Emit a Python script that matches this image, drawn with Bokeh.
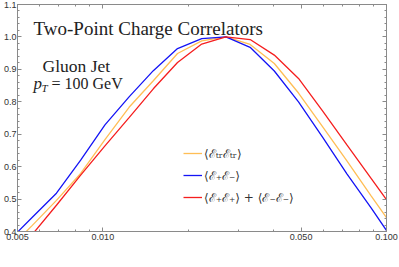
from bokeh.plotting import figure
from bokeh.models import (Range1d, LogAxis, LinearAxis, LogScale, FixedTicker, SingleIntervalTicker,
                          CustomJSTickFormatter, Label, Legend, LegendItem)
from bokeh.embed import file_html
from bokeh.resources import INLINE

# ---- data ----
theta = [0.00463, 0.00564, 0.00686, 0.00835, 0.01017, 0.01237, 0.01506, 0.01833,
         0.02231, 0.02715, 0.03305, 0.04022, 0.04895, 0.05958, 0.07251, 0.08825, 0.1074]
c_trtr = [0.343, 0.419, 0.496, 0.579, 0.683, 0.783, 0.865, 0.949,
          0.988, 1.000, 0.977, 0.918, 0.827, 0.723, 0.618, 0.510, 0.404]
c_pm = [0.369, 0.444, 0.518, 0.620, 0.729, 0.815, 0.896, 0.964,
        0.995, 1.000, 0.968, 0.895, 0.800, 0.690, 0.578, 0.473, 0.363]
c_same = [0.302, 0.391, 0.481, 0.574, 0.664, 0.751, 0.840, 0.921,
          0.978, 1.000, 0.992, 0.944, 0.872, 0.771, 0.667, 0.564, 0.461]

series_labels = ["⟨ℰₜᵣℰₜᵣ⟩", "⟨ℰ₊ℰ₋⟩", "⟨ℰ₊ℰ₊⟩ + ⟨ℰ₋ℰ₋⟩"]
series_colors = ["#FFBE55", "#1414F5", "#F51E1E"]

x_major = [0.005, 0.01, 0.05, 0.1]
x_minor = [0.006, 0.007, 0.008, 0.009, 0.02, 0.03, 0.04, 0.06, 0.07, 0.08, 0.09]
x_gray_labels = [0.02, 0.03, 0.04]

AX = "#8a8a8a"
LBL = "#333333"

p = figure(width=399, height=267, output_backend="svg", toolbar_location=None,
           x_axis_type=None, y_axis_type=None,
           x_range=Range1d(0.005, 0.1), y_range=Range1d(0.4, 1.1),
           min_border_left=17, min_border_right=13, min_border_top=4, min_border_bottom=36,
           margin=(0, 0, 0, 0))
p.x_scale = LogScale()
p.grid.visible = False
p.outline_line_color = AX
p.background_fill_color = "white"
p.border_fill_color = "white"

def style(ax, labels=True):
    ax.axis_line_color = AX
    ax.major_tick_line_color = AX
    ax.minor_tick_line_color = AX
    ax.major_tick_in = 4
    ax.major_tick_out = 0
    ax.minor_tick_in = 2
    ax.minor_tick_out = 0
    ax.major_label_text_color = LBL
    ax.major_label_text_font = "Liberation Sans"
    if labels:
        ax.major_label_text_font_size = "9px"
    else:
        ax.major_label_text_font_size = "1px"
        ax.major_label_standoff = 0
        ax.formatter = CustomJSTickFormatter(code="return ''")

def xticker():
    return FixedTicker(ticks=x_major, minor_ticks=x_minor)

def yticker():
    return SingleIntervalTicker(interval=0.1, num_minor_ticks=5)

bx = LogAxis(ticker=xticker(), formatter=CustomJSTickFormatter(code="return tick.toFixed(3)"))
style(bx)
bx.major_label_standoff = 2
tx = LogAxis(ticker=xticker())
style(tx, labels=False)
ly = LinearAxis(ticker=yticker(), formatter=CustomJSTickFormatter(code="return tick.toFixed(1)"))
style(ly)
ly.major_label_standoff = 1
ry = LinearAxis(ticker=yticker())
style(ry, labels=False)
p.add_layout(bx, "below")
p.add_layout(tx, "above")
p.add_layout(ly, "left")
p.add_layout(ry, "right")

renderers = []
for vals, col in zip([c_trtr, c_pm, c_same], series_colors):
    r = p.line(theta, vals, line_color=col, line_width=1.3)
    renderers.append(r)

for v in x_gray_labels:
    p.add_layout(Label(x=v, y=-2, y_units="screen", text="%.3f" % v, text_align="center",
                       text_baseline="top", text_font="Liberation Serif",
                       text_font_size="9px", text_color="#8c8c8c"))

serif = "Liberation Serif"
p.add_layout(Label(x=16, y=203.5, x_units="screen", y_units="screen",
                   text="Two-Point Charge Correlators", text_font=serif,
                   text_baseline="alphabetic",
                   text_font_size="19px", text_color="#222222"))
p.add_layout(Label(x=25, y=165.5, x_units="screen", y_units="screen",
                   text="Gluon Jet", text_font=serif, text_baseline="alphabetic",
                   text_font_size="17.5px", text_color="#222222"))
p.add_layout(Label(x=16, y=148, x_units="screen", y_units="screen",
                   text="p", text_font=serif, text_font_style="italic",
                   text_baseline="alphabetic",
                   text_font_size="17px", text_color="#222222"))
p.add_layout(Label(x=24, y=144, x_units="screen", y_units="screen",
                   text="T", text_font=serif, text_font_style="italic",
                   text_baseline="alphabetic",
                   text_font_size="11px", text_color="#222222"))
p.add_layout(Label(x=34, y=148, x_units="screen", y_units="screen",
                   text="= 100 GeV", text_font=serif, text_baseline="alphabetic",
                   text_font_size="16px", text_color="#222222"))
p.add_layout(Label(x=189, y=-34, x_units="screen", y_units="screen",
                   text="θ", text_font=serif, text_font_style="italic", text_align="center",
                   text_baseline="bottom",
                   text_font_size="20px", text_color="#222222"))

legend = Legend(items=[LegendItem(label=l, renderers=[r]) for l, r in zip(series_labels, renderers)],
                location=(166, 24), background_fill_alpha=0, border_line_alpha=0,
                label_text_font="DejaVu Serif", label_text_font_size="12px",
                label_text_color="#333333",
                glyph_width=19, glyph_height=20, label_height=20, spacing=2,
                padding=0, margin=0, label_standoff=2)
p.add_layout(legend, "center")

open("out.html", "w").write(file_html(p, INLINE))
